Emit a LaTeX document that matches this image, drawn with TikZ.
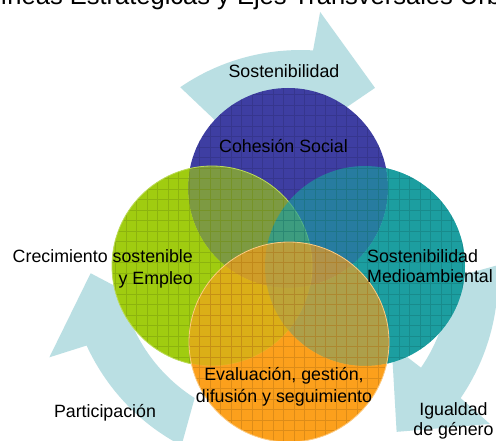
\documentclass[tikz,border=0pt]{standalone}
\usepackage{fontspec}
\setmainfont{Liberation Sans}
\definecolor{cblue}{RGB}{62,62,162}
\definecolor{cgreen}{RGB}{160,204,16}
\definecolor{cteal}{RGB}{28,158,160}
\definecolor{corange}{RGB}{252,160,28}
\definecolor{arrowcol}{RGB}{186,223,227}
\newcommand{\cycArrow}[1]{%
\fill[arrowcol]
 plot[domain=121.2:83.5, samples=40, variable=\t] ({288.5+(209+8*(121.2-\t)/37.7)*cos(\t+(#1))}, {266-(209+8*(121.2-\t)/37.7)*sin(\t+(#1))})
 -- ({288.5+256*cos(82.9+(#1))}, {266-256*sin(82.9+(#1))})
 -- ({288.5+198*cos(64.1+(#1))}, {266-198*sin(64.1+(#1))})
 -- ({288.5+130*cos(83.5+(#1))}, {266-130*sin(83.5+(#1))})
 -- plot[domain=83.5:116.6, samples=40, variable=\t] ({288.5+(167-5*(\t-83.5)/33.1)*cos(\t+(#1))}, {266-(167-5*(\t-83.5)/33.1)*sin(\t+(#1))})
 -- cycle;}
\tikzset{
  vc/.style={circle, minimum size=200pt, inner sep=0pt, outer sep=0pt},
  gridln/.style={step=10.5pt, line width=0.7pt, draw=#1!70!black, opacity=0.4},
  lbl/.style={font=\fontsize{17.8pt}{21pt}\selectfont, inner sep=0pt, anchor=base, text=black}
}
\begin{document}
\begin{tikzpicture}[x=1pt, y=-1pt]
\useasboundingbox (0,0) rectangle (496,441);
\fill[white] (0,0) rectangle (496,441);
% title (cut at top, as in the reference)
\node[font=\fontsize{25.5pt}{30pt}\selectfont, inner sep=0pt, anchor=base west] (title) at (-14,5) {Líneas Estratégicas y Ejes Transversales Urbanos};
% cycle arrows
\cycArrow{0}
\cycArrow{118}
\cycArrow{-121}
% circle anchors
\node[vc] (blue) at (288,188) {};
\node[vc] (green) at (212,266) {};
\node[vc] (teal) at (365,266) {};
\node[vc] (orange) at (289,342) {};
% blue
\fill[cblue] (blue.center) circle (100pt);
\begin{scope}
  \clip (blue.center) circle (100pt);
  \draw[gridln=cblue] (0,0) grid (496,441);
\end{scope}
% green
\fill[cgreen, opacity=0.65] (green.center) circle (100pt);
\begin{scope}[even odd rule]
  \clip (-20,-20) rectangle (520,470) (blue.center) circle (100pt);
  \fill[cgreen] (green.center) circle (100pt);
\end{scope}
\begin{scope}
  \clip (green.center) circle (100pt);
  \draw[gridln=cgreen] (0,0) grid (496,441);
\end{scope}
\draw[cgreen!70!white, line width=0.8pt] (green.center) circle (100pt);
% teal
\fill[cteal, opacity=0.65] (teal.center) circle (100pt);
\begin{scope}[even odd rule]
  \clip (-20,-20) rectangle (520,470) (blue.center) circle (100pt);
  \begin{scope}[even odd rule]
    \clip (-20,-20) rectangle (520,470) (green.center) circle (100pt);
    \fill[cteal] (teal.center) circle (100pt);
  \end{scope}
\end{scope}
\begin{scope}
  \clip (teal.center) circle (100pt);
  \draw[gridln=cteal] (0,0) grid (496,441);
\end{scope}
% orange
\fill[corange, opacity=0.65] (orange.center) circle (100pt);
\begin{scope}[even odd rule]
  \clip (-20,-20) rectangle (520,470) (blue.center) circle (100pt);
  \begin{scope}[even odd rule]
    \clip (-20,-20) rectangle (520,470) (green.center) circle (100pt);
    \begin{scope}[even odd rule]
      \clip (-20,-20) rectangle (520,470) (teal.center) circle (100pt);
      \fill[corange] (orange.center) circle (100pt);
    \end{scope}
  \end{scope}
\end{scope}
\begin{scope}
  \clip (orange.center) circle (100pt);
  \draw[gridln=corange] (0,0) grid (496,441);
\end{scope}
\draw[corange!55!white, line width=0.8pt] (orange.center) circle (100pt);
% labels (base anchor = baseline of the last line)
\node[lbl] (tSost) at (284,78) {Sostenibilidad};
\node[lbl] (tCoh) at (283.5,153) {Cohesión Social};
\node[lbl, anchor=base east, align=right] (tCrec) at (193,284) {Crecimiento sostenible\\y Empleo};
\node[lbl, anchor=base west, align=left, font=\fontsize{17.8pt}{20pt}\selectfont] (tMed) at (367,283) {Sostenibilidad\\Medioambiental};
\node[lbl, align=center, font=\fontsize{17.8pt}{22pt}\selectfont] (tEval) at (284,402) {Evaluación, gestión,\\difusión y seguimiento};
\node[lbl] (tPart) at (105,417) {Participación};
\node[lbl, align=center, font=\fontsize{17.8pt}{19.5pt}\selectfont] (tIg) at (453.5,435) {Igualdad\\de género};
\end{tikzpicture}
\end{document}
